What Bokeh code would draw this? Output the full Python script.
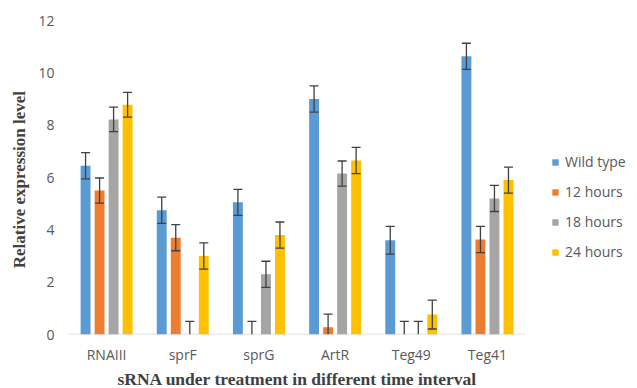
from bokeh.plotting import figure
from bokeh.models import ColumnDataSource, Whisker, TeeHead, Legend, LegendItem, Range1d, FixedTicker, Title
from bokeh.transform import dodge
from bokeh.embed import file_html
from bokeh.resources import INLINE

categories = ["RNAIII", "sprF", "sprG", "ArtR", "Teg49", "Teg41"]
series = ["Wild type", "12 hours", "18 hours", "24 hours"]
wild_type = [6.45, 4.75, 5.05, 9.0, 3.6, 10.63]
h12 = [5.5, 3.7, 0.0, 0.28, 0.0, 3.63]
h18 = [8.22, 0.0, 2.3, 6.15, 0.0, 5.2]
h24 = [8.78, 3.0, 3.8, 6.65, 0.76, 5.9]
err_wild = [0.5, 0.5, 0.5, 0.5, 0.53, 0.5]
err_12 = [0.48, 0.5, 0.5, 0.5, 0.5, 0.5]
err_18 = [0.47, 0.5, 0.5, 0.48, 0.5, 0.5]
err_24 = [0.47, 0.5, 0.5, 0.5, 0.55, 0.5]
y_ticks = [0, 2, 4, 6, 8, 10, 12]

colors = ["#5B9BD5", "#ED7D31", "#A5A5A5", "#FFC000"]
offsets = [-0.276, -0.092, 0.092, 0.276]
values = [wild_type, h12, h18, h24]
errors = [err_wild, err_12, err_18, err_24]
idx = list(range(len(categories)))

p = figure(width=637, height=388, x_range=Range1d(-0.5, 6.97), y_range=Range1d(0, 12),
           output_backend="svg", toolbar_location=None,
           min_border_left=68, min_border_right=0, min_border_top=20, min_border_bottom=53)

p.xgrid.visible = False
p.ygrid.visible = False
p.outline_line_color = None

# baseline under the categories only
p.segment(x0=[idx[0] - 0.5], y0=[0], x1=[idx[-1] + 0.5], y1=[0], line_color="#D9D9D9", line_width=1.3)

items = []
for name, vals, errs, col, off in zip(series, values, errors, colors, offsets):
    src = ColumnDataSource(dict(i=idx, v=vals))
    r = p.vbar(x=dodge("i", off), top="v", width=0.13, source=src,
               fill_color=col, line_color=None)
    items.append(LegendItem(label=name, renderers=[r]))
    full = dict(i=[], up=[], lo=[])
    part = dict(i=[], up=[], lo=[])
    for i, v, e in zip(idx, vals, errs):
        d = full if v - e >= 0 else part
        d["i"].append(i)
        d["up"].append(v + e)
        d["lo"].append(max(0.0, v - e))
    for d, lower_head in ((full, True), (part, False)):
        if not d["i"]:
            continue
        s = ColumnDataSource(d)
        w = Whisker(base=dodge("i", off), upper="up", lower="lo", source=s, level="overlay",
                    line_color="#404040", line_width=1.3,
                    upper_head=TeeHead(size=9, line_color="#404040", line_width=1.3),
                    lower_head=TeeHead(size=9, line_color="#404040", line_width=1.3) if lower_head else None)
        p.add_layout(w)

legend = Legend(items=items, location=(483, 73), orientation="vertical",
                glyph_width=8, glyph_height=8, label_height=16, spacing=11, padding=0, margin=0,
                label_standoff=6, border_line_color=None, background_fill_alpha=0,
                label_text_font="Open Sans", label_text_font_size="14px", label_text_color="#595959")
p.add_layout(legend, "center")

p.yaxis.ticker = FixedTicker(ticks=y_ticks)
p.yaxis.axis_line_color = None
p.yaxis.major_tick_line_color = None
p.yaxis.minor_tick_line_color = None
p.yaxis.major_tick_out = 0
p.yaxis.major_tick_in = 0
p.yaxis.minor_tick_out = 0
p.yaxis.major_label_standoff = 14
p.yaxis.major_label_text_font = "Open Sans"
p.yaxis.major_label_text_font_size = "14px"
p.yaxis.major_label_text_color = "#595959"
p.yaxis.axis_label = "Relative  expression level"
p.yaxis.axis_label_standoff = 6
p.yaxis.axis_label_text_font = "Liberation Serif"
p.yaxis.axis_label_text_font_style = "bold"
p.yaxis.axis_label_text_font_size = "17px"
p.yaxis.axis_label_text_color = "#404040"

p.xaxis.ticker = FixedTicker(ticks=idx)
p.xaxis.major_label_overrides = {i: c for i, c in zip(idx, categories)}
p.xaxis.axis_line_color = None
p.xaxis.major_tick_line_color = None
p.xaxis.minor_tick_line_color = None
p.xaxis.major_tick_out = 0
p.xaxis.major_tick_in = 0
p.xaxis.minor_tick_out = 0
p.xaxis.major_label_standoff = 10
p.xaxis.major_label_text_font = "Open Sans"
p.xaxis.major_label_text_font_size = "14px"
p.xaxis.major_label_text_color = "#595959"

xtitle = Title(text="sRNA under  treatment  in different  time interval", align="left", offset=49,
               standoff=0, text_font="Liberation Serif", text_font_style="bold",
               text_font_size="17.5px", text_color="#404040")
p.add_layout(xtitle, "below")

open("out.html", "w").write(file_html(p, INLINE))
